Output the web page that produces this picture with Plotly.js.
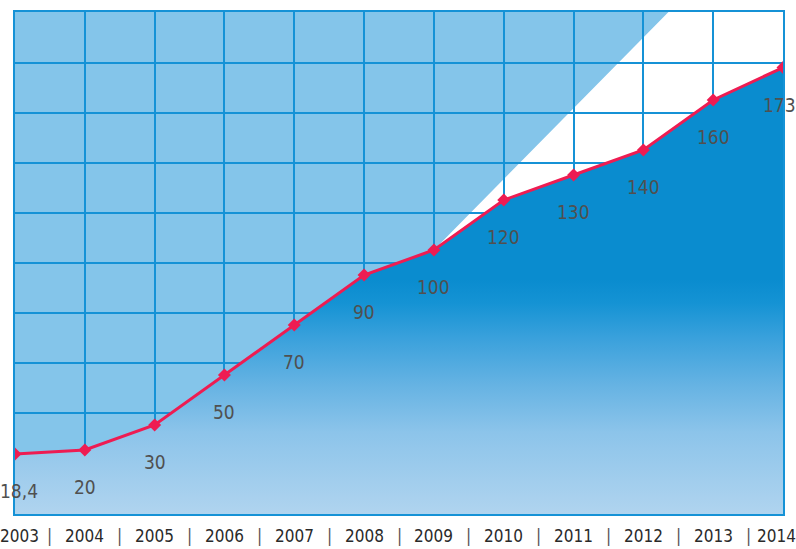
<!DOCTYPE html>
<html>
<head>
<meta charset="utf-8">
<script src="https://cdn.plot.ly/plotly-3.0.1.min.js"></script>
<style>html,body{margin:0;padding:0;background:#fff;}#chart{width:796px;height:549px;}</style>
</head>
<body>
<div id="chart"></div>
<script>
// ---- data ----
var years = [2003, 2004, 2005, 2006, 2007, 2008, 2009, 2010, 2011, 2012, 2013, 2014];
var values = [18.4, 20, 30, 50, 70, 90, 100, 120, 130, 140, 160, 173];
var valueLabels = ['18,4', '20', '30', '50', '70', '90', '100', '120', '130', '140', '160', '173'];
var yearLabels = ['2003', '2004', '2005', '2006', '2007', '2008', '2009', '2010', '2011', '2012', '2013', '2014'];

// ---- layout constants ----
var yMin = -5.6, yMax = 195.2;
var diagStartIndex = 6;       // background diagonal meets the line at 2009
var diagTopX = 2012.36;        // where the diagonal reaches the top edge

var gridColor = '#1592d6';
var lineColor = '#ee1c52';
var narrow = "'Liberation Sans Narrow', 'DejaVu Sans Condensed', 'Roboto', sans-serif";
var last = years.length - 1;

function edgeAnchor(i) {
  if (i === 0) return {xanchor: 'left', xshift: -17};
  if (i === last) return {xanchor: 'right', xshift: 15};
  return {xanchor: 'center', xshift: 0};
}

var baseTrace = {
  x: years, y: years.map(function(){ return yMin; }),
  mode: 'lines', line: {width: 0, color: 'rgba(0,0,0,0)'},
  hoverinfo: 'skip', showlegend: false
};

var areaTrace = {
  x: years, y: values,
  mode: 'lines', fill: 'tonexty',
  line: {width: 0, color: 'rgba(0,0,0,0)'},
  fillgradient: {
    type: 'vertical',
    start: yMin, stop: 88,
    colorscale: [
      [0, '#b0d4ef'],
      [0.35, '#8cc4ea'],
      [0.55, '#66b3e3'],
      [0.75, '#3aa1dc'],
      [0.9, '#1593d4'],
      [1, '#0a8ccf']
    ]
  },
  hoverinfo: 'skip', showlegend: false
};

var lineTrace = {
  x: years, y: values,
  mode: 'lines+markers',
  line: {color: lineColor, width: 3},
  marker: {color: lineColor, size: 10, symbol: 'diamond'},
  showlegend: false
};

var annotations = [];
years.forEach(function(yr, i){
  var a = edgeAnchor(i);
  annotations.push({
    x: yr, y: values[i], xref: 'x', yref: 'y',
    text: valueLabels[i], showarrow: false, yshift: -37,
    xanchor: a.xanchor, xshift: a.xshift,
    font: {family: narrow, size: 19, color: '#505050'}
  });
  annotations.push({
    x: yr, y: -0.043, xref: 'x', yref: 'paper',
    text: yearLabels[i], showarrow: false, yanchor: 'middle',
    xanchor: a.xanchor, xshift: a.xshift,
    font: {family: narrow, size: 17, color: '#2a2a2a'}
  });
});
for (var i = 0; i < last; i++) {
  annotations.push({
    x: (years[i] + years[i + 1]) / 2, y: -0.043, xref: 'x', yref: 'paper',
    text: '|', showarrow: false, yanchor: 'middle',
    font: {family: narrow, size: 17, color: '#555555'}
  });
}

var layout = {
  width: 796, height: 549,
  margin: {l: 15, r: 13, t: 12, b: 35},
  paper_bgcolor: '#ffffff',
  plot_bgcolor: '#ffffff',
  showlegend: false,
  xaxis: {
    range: [years[0], years[last]],
    tickvals: years,
    showgrid: true, gridcolor: gridColor, gridwidth: 2,
    zeroline: false, ticks: '', showticklabels: false,
    showline: true, linecolor: gridColor, linewidth: 2, mirror: true
  },
  yaxis: {
    range: [yMin, yMax],
    tick0: 14.8, dtick: 20,
    showgrid: true, gridcolor: gridColor, gridwidth: 2,
    zeroline: false, showticklabels: false, ticks: '',
    showline: true, linecolor: gridColor, linewidth: 2, mirror: true
  },
  shapes: [{
    type: 'path', xref: 'x', yref: 'y', layer: 'below',
    path: 'M ' + years[0] + ',' + yMin +
          ' L ' + years[0] + ',' + yMax +
          ' L ' + diagTopX + ',' + yMax +
          ' L ' + years[diagStartIndex] + ',' + values[diagStartIndex] +
          ' L ' + years[diagStartIndex] + ',' + yMin + ' Z',
    fillcolor: '#84c5ea', line: {width: 0}
  }],
  annotations: annotations
};

Plotly.newPlot('chart', [baseTrace, areaTrace, lineTrace], layout, {staticPlot: true});
</script>
</body>
</html>
